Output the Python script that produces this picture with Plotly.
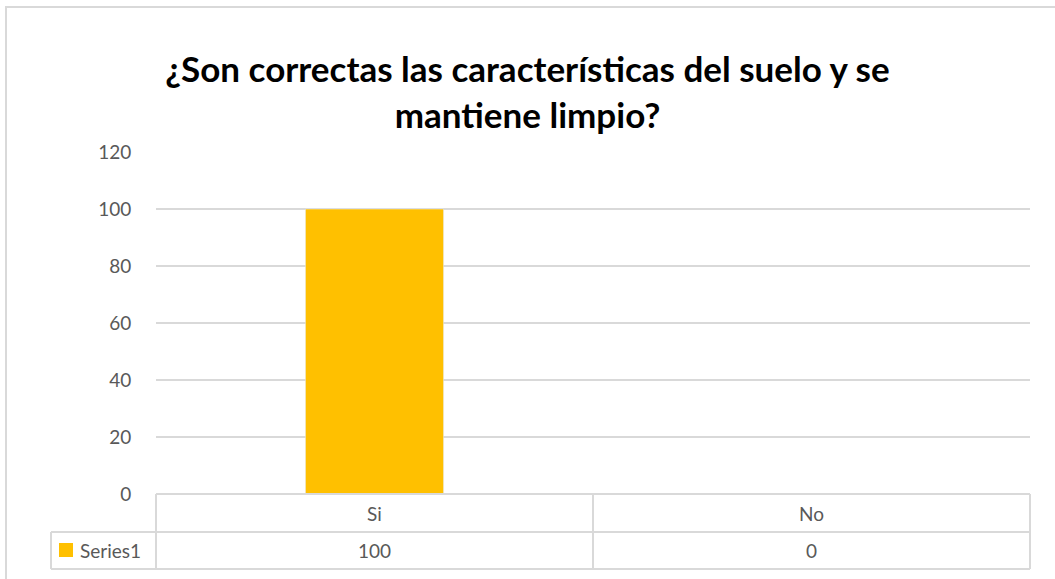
import plotly.graph_objects as go

categories = ["Si", "No"]
series_name = "Series1"
values = [100, 0]
y_ticks = [0, 20, 40, 60, 80, 100, 120]

_BAR = "#FFC000"
_GRID = "#D9D9D9"
_TEXT = "#595959"
_FONT = "Lato, 'Open Sans', sans-serif"

W, H = 1055, 579
L, R, T, B = 156, 25, 152, 85
PW, PH = W - L - R, H - T - B


def px(x):
    return (x - L) / PW


def py(y):
    return (H - B - y) / PH


fig = go.Figure(go.Bar(
    x=categories,
    y=values,
    name=series_name,
    marker_color=_BAR,
    width=0.316,
    showlegend=False,
))

shapes = []
line = {"color": _GRID, "width": 2}
# outer chart frame
shapes.append(dict(type="rect", xref="paper", yref="paper",
                   x0=px(6), x1=px(1070), y0=py(7), y1=py(600),
                   line={"color": "#D9D9D9", "width": 2}, layer="below"))
# data table lines
row_mid, row_bot = py(532), py(569)
for x0, x1, y in [(0, 1, 0), (px(51), 1, row_mid), (px(51), 1, row_bot)]:
    shapes.append(dict(type="line", xref="paper", yref="paper",
                       x0=x0, x1=x1, y0=y, y1=y, line=line))
for x, y0 in [(px(51), row_mid), (0, 0), (0.5, 0), (1, 0)]:
    shapes.append(dict(type="line", xref="paper", yref="paper",
                       x0=x, x1=x, y0=y0, y1=row_bot, line=line))
# legend key in table
shapes.append(dict(type="rect", xref="paper", yref="paper",
                   x0=px(59), x1=px(73), y0=py(543), y1=py(557),
                   fillcolor=_BAR, line={"width": 0}))

cell_font = {"size": 19, "color": _TEXT, "family": _FONT}
annotations = []
for cat, val in zip(categories, values):
    annotations.append(dict(x=cat, xref="x", y=(py(494) + row_mid) / 2, yref="paper",
                            xanchor="center", yanchor="middle",
                            text=cat, showarrow=False, font=cell_font))
    annotations.append(dict(x=cat, xref="x", y=(row_mid + row_bot) / 2, yref="paper",
                            xanchor="center", yanchor="middle",
                            text=str(val), showarrow=False, font=cell_font))
annotations.append(dict(x=px(78), xref="paper", xanchor="left",
                        y=(row_mid + row_bot) / 2, yref="paper", yanchor="middle",
                        text=series_name, showarrow=False, font=cell_font))

fig.update_layout(
    width=W, height=H,
    margin={"l": L, "r": R, "t": T, "b": B},
    paper_bgcolor="white",
    plot_bgcolor="white",
    title={
        "text": "<b>¿Son correctas las características del suelo y se<br>mantiene limpio?</b>",
        "x": 0.5, "xanchor": "center",
        "y": 1 - 82 / H, "yanchor": "middle",
        "font": {"size": 35, "color": "#000000", "family": _FONT},
    },
    xaxis={"showticklabels": False, "showgrid": False, "zeroline": False,
           "showline": False, "ticks": ""},
    yaxis={"range": [0, 120], "tickvals": y_ticks, "showgrid": True,
           "gridcolor": _GRID, "gridwidth": 2, "zeroline": False,
           "showline": False, "ticks": "outside", "ticklen": 20, "tickcolor": "white",
           "tickfont": {"size": 19, "color": _TEXT, "family": _FONT}},
    shapes=shapes,
    annotations=annotations,
)

fig.write_html("out.html", config={"displayModeBar": False},
               post_script="document.body.style.margin='0';")
